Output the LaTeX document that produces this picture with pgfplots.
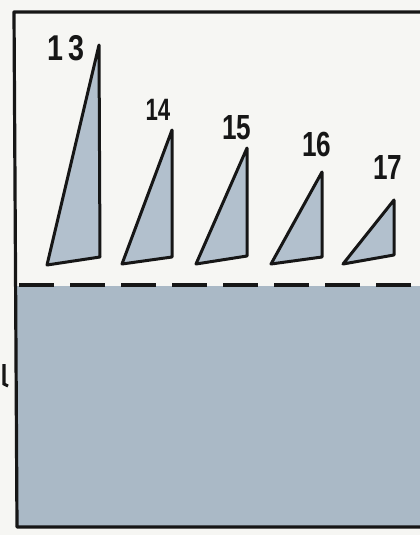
\documentclass[border=0pt]{standalone}
\usepackage{pgfplots}
\pgfplotsset{compat=1.18}
\usepackage{fontspec}
\setmainfont{Liberation Sans}
\definecolor{bg}{RGB}{246,246,243}
\definecolor{slab}{RGB}{170,185,198}
\definecolor{tri}{RGB}{178,192,205}
\definecolor{ink}{RGB}{22,22,22}
\begin{document}
\begin{tikzpicture}
\begin{axis}[
  scale only axis, width=420bp, height=535bp,
  xmin=0, xmax=420, ymin=0, ymax=535, y dir=reverse,
  axis lines=none, ticks=none, clip=true,
]
% background
\addplot[fill=bg, draw=none] coordinates {(0,0) (420,0) (420,535) (0,535)} -- cycle;
% lower slab
\addplot[fill=slab, draw=none] coordinates {(16,286) (420,286) (420,527) (16,527)} -- cycle;
% frame
\addplot[ink, line width=3.2bp, line join=round] coordinates {(420,12) (14,12) (17,527) (420,527)};
% dashed line
\addplot[ink, line width=3.2bp, dash pattern=on 35bp off 16bp] coordinates {(19,285) (420,285)};
% left mark
\addplot[ink, line width=3bp] coordinates {(4,364) (4,384) (8,386)};
% triangles
\addplot[fill=tri, draw=ink, line width=3bp, line join=round] coordinates {(47,265) (100,257) (99,45)} -- cycle;
\addplot[fill=tri, draw=ink, line width=3bp, line join=round] coordinates {(122,264) (172,257) (172,130)} -- cycle;
\addplot[fill=tri, draw=ink, line width=3bp, line join=round] coordinates {(196,264) (247,256) (247,148)} -- cycle;
\addplot[fill=tri, draw=ink, line width=3bp, line join=round] coordinates {(271,264) (322,257) (322,172)} -- cycle;
\addplot[fill=tri, draw=ink, line width=3bp, line join=round] coordinates {(343,264) (394,255) (394,200)} -- cycle;
% labels
\node[ink, xscale=0.8, font=\fontsize{36}{36}\selectfont\bfseries] at (axis cs:66,48) {1\,3};
\node[ink, xscale=0.72, font=\fontsize{31}{31}\selectfont\bfseries] at (axis cs:158,110) {14};
\node[ink, xscale=0.75, font=\fontsize{35}{35}\selectfont\bfseries] at (axis cs:237,128) {15};
\node[ink, xscale=0.75, font=\fontsize{35}{35}\selectfont\bfseries] at (axis cs:317,144) {16};
\node[ink, xscale=0.75, font=\fontsize{35}{35}\selectfont\bfseries] at (axis cs:388,168) {17};
\end{axis}
\end{tikzpicture}
\end{document}
